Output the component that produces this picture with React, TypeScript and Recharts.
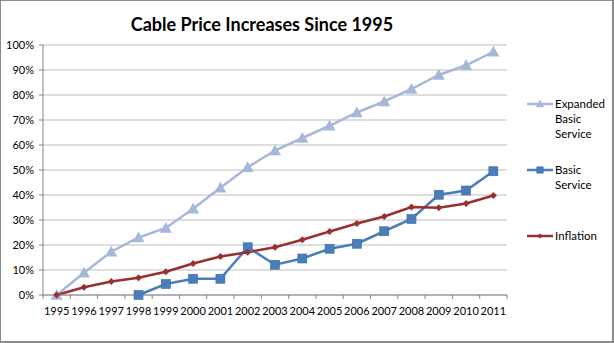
import { LineChart, Line, XAxis, YAxis, CartesianGrid } from 'recharts';

const years = ['1995', '1996', '1997', '1998', '1999', '2000', '2001', '2002', '2003', '2004', '2005', '2006', '2007', '2008', '2009', '2010', '2011'];
const expandedBasic = [0, 8.9, 17.3, 23, 26.8, 34.5, 42.9, 51.1, 57.8, 62.8, 67.7, 73, 77.4, 82.4, 88, 91.9, 97.3];
const basicService = [null, null, null, 0, 4.4, 6.5, 6.5, 19.1, 12.1, 14.6, 18.5, 20.5, 25.5, 30.4, 40.1, 41.8, 49.5];
const inflation = [0, 3.1, 5.4, 6.9, 9.3, 12.6, 15.4, 17.1, 19.1, 22.1, 25.4, 28.6, 31.4, 35.2, 34.9, 36.6, 39.8];
const yTicks = [0, 10, 20, 30, 40, 50, 60, 70, 80, 90, 100];

const seriesInfo = [
  { key: 'expanded', label: ['Expanded', 'Basic', 'Service'], color: '#A6B7DA', marker: 'triangle' },
  { key: 'basic', label: ['Basic', 'Service'], color: '#4A7EBB', marker: 'square' },
  { key: 'inflation', label: ['Inflation'], color: '#98302F', marker: 'diamond' },
];

const data = years.map((y, i) => ({
  year: y,
  expanded: expandedBasic[i],
  basic: basicService[i],
  inflation: inflation[i],
}));

const FONT = 'Lato, "Noto Sans", sans-serif';
const PLOT_LEFT = 43;
const PLOT_RIGHT = 507;
const BAND = (PLOT_RIGHT - PLOT_LEFT) / years.length;

function Marker({ type, cx, cy, color, k = 1 }: { type: string; cx: number; cy: number; color: string; k?: number }) {
  if (cx == null || cy == null) return null;
  if (type === 'triangle') {
    const s = 6 * k;
    return <polygon points={`${cx},${cy - s} ${cx + s},${cy + s * 0.8} ${cx - s},${cy + s * 0.8}`} fill={color} />;
  }
  if (type === 'square') {
    const h = 4.5 * k;
    return <rect x={cx - h} y={cy - h} width={h * 2} height={h * 2} fill={color} stroke="#3A6AA5" strokeWidth={0.6} />;
  }
  const d = 3.5 * k;
  return <polygon points={`${cx},${cy - d} ${cx + d},${cy} ${cx},${cy + d} ${cx - d},${cy}`} fill={color} />;
}

function XTick(props: any) {
  const { x, y, payload, index } = props;
  const left = x - BAND / 2;
  return (
    <g>
      <line x1={left} y1={y - 8} x2={left} y2={y - 4} stroke="#868686" />
      {index === years.length - 1 && (
        <line x1={x + BAND / 2} y1={y - 8} x2={x + BAND / 2} y2={y - 4} stroke="#868686" />
      )}
      <text x={x} y={y + 12} textAnchor="middle" fill="#000" fontSize={11} fontFamily={FONT}>
        {payload.value}
      </text>
    </g>
  );
}

export default function App() {
  return (
    <div
      style={{
        position: 'fixed',
        left: 0,
        top: 0,
        width: 611,
        height: 340,
        border: '1px solid #8a8a8a',
        borderRightWidth: 2,
        borderBottomWidth: 2,
        background: '#fff',
        fontFamily: FONT,
      }}
    >
      <div
        style={{
          position: 'absolute',
          left: 0,
          width: 522,
          top: 12,
          textAlign: 'center',
          fontSize: 18,
          fontWeight: 700,
          color: '#000',
        }}
      >
        Cable Price Increases Since 1995
      </div>
      <div style={{ position: 'absolute', left: -1, top: -1 }}>
        <LineChart width={614} height={343} data={data} margin={{ top: 45, right: 614 - PLOT_RIGHT, bottom: 18, left: 0 }}>
          <CartesianGrid vertical={false} stroke="#BDBDBD" strokeWidth={1} />
          <XAxis
            dataKey="year"
            padding={{ left: BAND / 2, right: BAND / 2 }}
            axisLine={{ stroke: '#868686' }}
            tickLine={false}
            tick={<XTick />}
            interval={0}
          />
          <YAxis
            width={PLOT_LEFT}
            domain={[0, 100]}
            ticks={yTicks}
            tickFormatter={(v) => `${v}%`}
            axisLine={{ stroke: '#868686' }}
            tickLine={{ stroke: '#868686' }}
            tickSize={4}
            tickMargin={5}
            tick={{ fill: '#000', fontSize: 11, fontFamily: FONT }}
          />
          {seriesInfo.map((s) => (
            <Line
              key={s.key}
              dataKey={s.key}
              stroke={s.color}
              strokeWidth={2.5}
              isAnimationActive={false}
              dot={(p: any) => <Marker key={`${s.key}-${p.index}`} type={s.marker} cx={p.cx} cy={p.cy} color={s.color} />}
              activeDot={false}
            />
          ))}
        </LineChart>
      </div>
      {seriesInfo.map((s, i) => {
        const tops = [95, 161, 227];
        return (
          <div key={s.key} style={{ position: 'absolute', left: 526, top: tops[i], display: 'flex', alignItems: 'flex-start' }}>
            <svg width={27} height={15} style={{ flexShrink: 0 }}>
              <line x1={0} y1={8} x2={26} y2={8} stroke={s.color} strokeWidth={2.5} />
              <Marker type={s.marker} cx={13} cy={8} color={s.color} k={0.7} />
            </svg>
            <div style={{ fontSize: 11.5, lineHeight: '15px', color: '#000', marginLeft: 1 }}>
              {s.label.map((l) => (
                <div key={l}>{l}</div>
              ))}
            </div>
          </div>
        );
      })}
    </div>
  );
}
